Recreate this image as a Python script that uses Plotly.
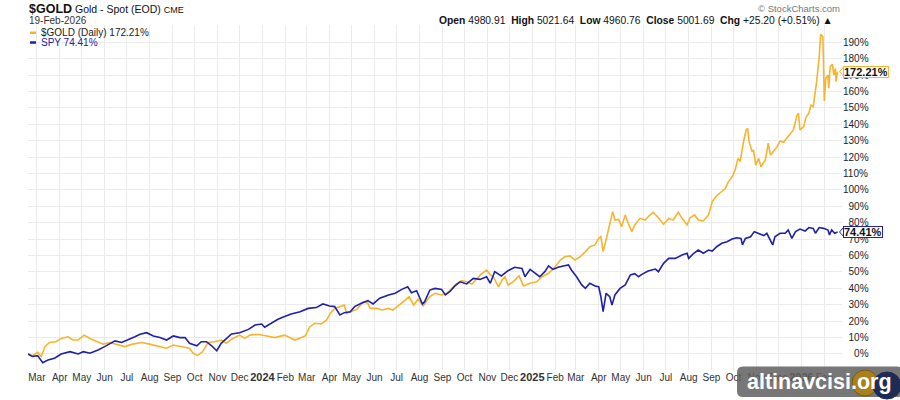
import plotly.graph_objects as go
import pandas as pd

# ---------------- data ----------------
gold_dates = [
    "2023-02-17", "2023-02-23", "2023-03-02", "2023-03-07", "2023-03-12", "2023-03-18", "2023-03-27", "2023-04-03", "2023-04-12", "2023-04-19",
    "2023-04-26", "2023-05-04", "2023-05-12", "2023-05-21", "2023-05-30", "2023-06-08", "2023-06-17", "2023-06-28", "2023-07-09", "2023-07-21",
    "2023-08-01", "2023-08-15", "2023-08-24", "2023-09-02", "2023-09-15", "2023-09-24", "2023-09-29", "2023-10-05", "2023-10-12", "2023-10-19",
    "2023-10-28", "2023-11-06", "2023-11-13", "2023-11-20", "2023-12-01", "2023-12-08", "2023-12-15", "2023-12-26", "2024-01-07", "2024-01-18",
    "2024-01-31", "2024-02-14", "2024-02-28", "2024-03-05", "2024-03-12", "2024-03-21", "2024-03-28", "2024-04-02", "2024-04-08", "2024-04-15",
    "2024-04-21", "2024-04-24", "2024-05-01", "2024-05-08", "2024-05-17", "2024-05-23", "2024-05-26", "2024-06-04", "2024-06-11", "2024-06-20",
    "2024-06-26", "2024-07-03", "2024-07-12", "2024-07-18", "2024-07-24", "2024-07-30", "2024-08-06", "2024-08-15", "2024-08-22", "2024-08-31",
    "2024-09-07", "2024-09-14", "2024-09-20", "2024-09-27", "2024-10-04", "2024-10-11", "2024-10-18", "2024-10-24", "2024-10-31", "2024-11-05",
    "2024-11-09", "2024-11-16", "2024-11-21", "2024-11-25", "2024-11-29", "2024-12-06", "2024-12-14", "2024-12-20", "2024-12-29", "2025-01-07",
    "2025-01-14", "2025-01-23", "2025-02-01", "2025-02-08", "2025-02-14", "2025-02-21", "2025-02-28", "2025-03-07", "2025-03-14", "2025-03-20",
    "2025-03-27", "2025-04-01", "2025-04-04", "2025-04-07", "2025-04-12", "2025-04-17", "2025-04-20", "2025-04-23", "2025-04-28", "2025-05-02",
    "2025-05-07", "2025-05-11", "2025-05-16", "2025-05-20", "2025-05-27", "2025-06-03", "2025-06-07", "2025-06-14", "2025-06-21", "2025-06-28",
    "2025-07-05", "2025-07-11", "2025-07-18", "2025-07-23", "2025-07-30", "2025-08-03", "2025-08-09", "2025-08-14", "2025-08-21", "2025-08-28",
    "2025-09-02", "2025-09-08", "2025-09-15", "2025-09-20", "2025-09-24", "2025-09-29", "2025-10-03", "2025-10-07", "2025-10-10", "2025-10-14",
    "2025-10-18", "2025-10-20", "2025-10-22", "2025-10-26", "2025-10-28", "2025-10-31", "2025-11-04", "2025-11-07", "2025-11-13", "2025-11-17",
    "2025-11-20", "2025-11-24", "2025-11-29", "2025-12-03", "2025-12-08", "2025-12-12", "2025-12-17", "2025-12-21", "2025-12-26", "2025-12-28",
    "2025-12-30", "2026-01-04", "2026-01-07", "2026-01-11", "2026-01-14", "2026-01-17", "2026-01-21", "2026-01-23", "2026-01-25", "2026-01-27",
    "2026-01-30", "2026-01-31", "2026-02-01", "2026-02-03", "2026-02-06", "2026-02-07", "2026-02-09", "2026-02-12", "2026-02-14", "2026-02-16",
    "2026-02-17", "2026-02-19",
]
gold_pct = [
    0, -1, 1, -1.5, 4.5, 7, 7.5, 9.5, 10.5, 8.5,
    8.5, 11.5, 9.5, 7.5, 6, 7, 6, 4.5, 6, 7,
    6, 4.5, 3.5, 5.5, 4.5, 3.5, 0.5, -1, 1.5, 7,
    7.5, 8.5, 6.5, 9, 11.5, 9.5, 11.5, 12, 11, 10,
    11.5, 8.5, 11, 16.5, 18.7, 18.3, 20.7, 24.8, 27.8, 29,
    29.9, 24.8, 25.8, 27.2, 31.9, 30.9, 27.8, 27.8, 26.8, 27.8,
    26.8, 29.3, 32.9, 34.9, 29.9, 33.3, 29.3, 35, 37, 36,
    37, 40, 42.7, 44.7, 44, 42.7, 46.1, 48.8, 51.2, 48.2,
    47.1, 41, 45.1, 47.1, 42.1, 44, 47.6, 41.5, 43.1, 44,
    47.1, 49.2, 53.2, 57.3, 59.3, 59.8, 57.3, 59.3, 62.4, 65.4,
    66.5, 70.5, 71.5, 62.4, 71.5, 80.7, 86.8, 81.7, 82.1, 77.6,
    84.8, 79.7, 74.6, 78.7, 82.7, 81.7, 83.7, 86.4, 83.1, 79.1,
    82.7, 81.7, 86.4, 82.7, 78.7, 83.1, 84.8, 81.7, 81.1, 84.8,
    92.9, 96.5, 99, 101, 105.1, 108.1, 112.2, 119.3, 117.3, 128.5,
    136.6, 137.6, 129.5, 123.4, 124.4, 115.2, 119.3, 114.2, 118.3, 128.5,
    121.3, 123.4, 126.4, 129.9, 129.1, 131.5, 134.6, 136.6, 145.7, 146.8,
    136.6, 138.6, 144.1, 146.8, 151.8, 150.8, 164, 172.1, 180.3, 194.9,
    193.5, 176.2, 154.3, 168.1, 170.1, 162, 175.2, 176.6, 170.1, 174.2,
    166, 172.21,
]

spy_dates = [
    "2023-02-17", "2023-02-23", "2023-03-02", "2023-03-09", "2023-03-16", "2023-03-25", "2023-04-03", "2023-04-15", "2023-04-26", "2023-05-03",
    "2023-05-12", "2023-05-23", "2023-06-01", "2023-06-08", "2023-06-15", "2023-06-24", "2023-07-03", "2023-07-12", "2023-07-19", "2023-07-28",
    "2023-08-06", "2023-08-15", "2023-08-24", "2023-09-02", "2023-09-11", "2023-09-18", "2023-09-24", "2023-10-04", "2023-10-10", "2023-10-17",
    "2023-10-24", "2023-10-31", "2023-11-06", "2023-11-11", "2023-11-20", "2023-12-01", "2023-12-13", "2023-12-22", "2023-12-31", "2024-01-04",
    "2024-01-13", "2024-01-22", "2024-01-31", "2024-02-09", "2024-02-21", "2024-03-03", "2024-03-14", "2024-03-23", "2024-04-01", "2024-04-08",
    "2024-04-15", "2024-04-21", "2024-04-29", "2024-05-05", "2024-05-14", "2024-05-23", "2024-05-30", "2024-06-08", "2024-06-20", "2024-06-29",
    "2024-07-08", "2024-07-16", "2024-07-21", "2024-07-28", "2024-08-05", "2024-08-08", "2024-08-15", "2024-08-22", "2024-08-31", "2024-09-05",
    "2024-09-11", "2024-09-18", "2024-09-25", "2024-10-04", "2024-10-13", "2024-10-22", "2024-10-31", "2024-11-05", "2024-11-11", "2024-11-20",
    "2024-11-29", "2024-12-08", "2024-12-18", "2024-12-22", "2024-12-29", "2025-01-05", "2025-01-11", "2025-01-18", "2025-01-23", "2025-01-29",
    "2025-02-05", "2025-02-12", "2025-02-19", "2025-02-23", "2025-03-02", "2025-03-09", "2025-03-14", "2025-03-20", "2025-03-27", "2025-04-01",
    "2025-04-04", "2025-04-07", "2025-04-11", "2025-04-16", "2025-04-19", "2025-04-23", "2025-04-30", "2025-05-07", "2025-05-14", "2025-05-20",
    "2025-05-25", "2025-05-29", "2025-06-07", "2025-06-17", "2025-06-21", "2025-06-28", "2025-07-05", "2025-07-14", "2025-07-23", "2025-07-30",
    "2025-08-01", "2025-08-08", "2025-08-14", "2025-08-21", "2025-08-28", "2025-09-02", "2025-09-08", "2025-09-15", "2025-09-22", "2025-09-29",
    "2025-10-05", "2025-10-11", "2025-10-13", "2025-10-17", "2025-10-24", "2025-10-29", "2025-11-04", "2025-11-11", "2025-11-15", "2025-11-20",
    "2025-11-23", "2025-11-26", "2025-12-03", "2025-12-10", "2025-12-14", "2025-12-19", "2025-12-24", "2025-12-30", "2026-01-06", "2026-01-11",
    "2026-01-17", "2026-01-20", "2026-01-25", "2026-01-31", "2026-02-06", "2026-02-08", "2026-02-11", "2026-02-15", "2026-02-19",
]
spy_pct = [
    0, -1.5, -1, -5.3, -3.7, -2.6, 0, 1.4, 0, 1.4,
    0.5, 2.4, 4.5, 6, 8, 7, 9, 10.5, 12, 13,
    11, 10, 8.5, 11, 10, 10, 6.5, 5, 7.5, 7.5,
    5, 2, 6.5, 8.5, 12.2, 13, 15, 17.7, 18.3, 16.3,
    18.7, 21.2, 22.8, 24.4, 25.8, 27.8, 28.3, 30.5, 29.3, 28.9,
    23.8, 25.2, 25.8, 28.9, 30.9, 32.5, 30.5, 34, 36, 37,
    39.4, 41, 37.4, 38.6, 30.5, 31.9, 39, 40, 39.4, 36,
    38, 41.5, 44, 42.7, 46.1, 45.5, 47.1, 43.1, 50.2, 47.6,
    50.8, 52.9, 52.2, 47.1, 51.6, 49.2, 47.1, 50.2, 53.7, 51.6,
    52.9, 53.7, 54.3, 51.2, 47.1, 42.1, 40, 43.1, 41.5, 41,
    34.9, 25.8, 37, 34.9, 29.9, 36, 40, 42.1, 48.2, 49,
    47.1, 48.4, 50.6, 51.8, 50.2, 55.3, 58.3, 58.3, 60.4, 61.4,
    58.3, 61.4, 63.4, 61.4, 63.4, 62.8, 65.4, 67.5, 68.5, 70.1,
    70.9, 70.5, 66.5, 70.5, 71.5, 74.6, 73.6, 72.2, 73.6, 69.5,
    66.5, 71.5, 73.6, 73.6, 75.6, 70.5, 74.6, 76.2, 75, 77.1,
    76.6, 73.6, 77.1, 76.6, 75.6, 72.6, 75.6, 73.6, 74.41,
]

month_labels = [
    "Mar", "Apr", "May", "Jun", "Jul", "Aug", "Sep", "Oct", "Nov", "Dec",
    "2024", "Feb", "Mar", "Apr", "May", "Jun", "Jul", "Aug", "Sep", "Oct", "Nov", "Dec",
    "2025", "Feb", "Mar", "Apr", "May", "Jun", "Jul", "Aug", "Sep", "Oct", "Nov", "Dec",
    "2026", "Feb",
]
month_ticks = list(pd.date_range("2023-03-01", periods=len(month_labels), freq="MS"))

pct_ticks = list(range(-10, 201, 10))
ohlc_names = ["Open", "High", "Low", "Close", "Chg"]
ohlc_values = ["4980.91", "5021.64", "4960.76", "5001.69", "+25.20 (+0.51%)"]

symbol_name = "$GOLD"
symbol_desc = "Gold - Spot (EOD)"
exchange = "CME"
as_of = "19-Feb-2026"
gold_legend = "$GOLD (Daily)"
spy_legend = "SPY"

# ---------------- style / geometry ----------------
W, H = 900, 400
L, R, T, B = 28, 58, 25, 30
PW, PH = W - L - R, H - T - B
FONT = "Liberation Sans, Arial, sans-serif"
GOLD = "#F8B42C"
BLUE = "#2020A8"
GRID = "#ebebeb"


def px(x):
    return (x - L) / PW


def py(y):
    return (H - B - y) / PH


fig = go.Figure()
fig.add_trace(go.Scatter(x=gold_dates, y=gold_pct, mode="lines",
                         line=dict(color=GOLD, width=1.6), hoverinfo="skip"))
fig.add_trace(go.Scatter(x=spy_dates, y=spy_pct, mode="lines",
                         line=dict(color=BLUE, width=1.6), hoverinfo="skip"))

tick_text = []
for lab in month_labels:
    if lab.isdigit():
        tick_text.append("<b><span style='font-size:11px'>%s</span></b>" % lab)
    else:
        tick_text.append(lab)

y_text = []
for v in pct_ticks:
    if v < 0 or v > 190:
        y_text.append("")
    else:
        pad = "\u2007" * (3 - len(str(v)))
        y_text.append("%s%d%%" % (pad, v))

fig.update_layout(
    width=W, height=H,
    margin=dict(l=L, r=R, t=T, b=B, autoexpand=False),
    paper_bgcolor="white", plot_bgcolor="white",
    showlegend=False,
    font=dict(family=FONT, size=10, color="#333"),
    xaxis=dict(type="date", range=["2023-02-17", "2026-02-25"],
               tickvals=month_ticks, ticktext=tick_text, ticks="", tickangle=0,
               automargin=False,
               showgrid=True, gridcolor=GRID, gridwidth=1, zeroline=False,
               showline=False, tickfont=dict(size=10, color="#333"), fixedrange=True),
    yaxis=dict(side="right", range=[-9.76, 200.6], tickvals=pct_ticks, ticktext=y_text,
               ticks="", showgrid=True, gridcolor=GRID, gridwidth=1, zeroline=False,
               automargin=False,
               showline=False, tickfont=dict(size=10, color="#222"), fixedrange=True),
)

ann = []
# header left
ann.append(dict(xref="paper", yref="paper", x=px(27), y=py(9.5), xanchor="left", yanchor="middle",
                text="<b><span style='font-size:12.5px'>%s</span></b> %s <span style='font-size:9px'>%s</span>"
                     % (symbol_name, symbol_desc, exchange),
                showarrow=False, font=dict(family=FONT, size=10.5, color="#111")))
ann.append(dict(xref="paper", yref="paper", x=px(27), y=py(20.5), xanchor="left", yanchor="middle",
                text=as_of, showarrow=False, font=dict(family=FONT, size=10, color="#333")))
# legend texts
ann.append(dict(xref="paper", yref="paper", x=px(38.5), y=py(32.8), xanchor="left", yanchor="middle",
                text="%s %.2f%%" % (gold_legend, gold_pct[-1]), showarrow=False,
                font=dict(family=FONT, size=10, color="#222")))
ann.append(dict(xref="paper", yref="paper", x=px(38.5), y=py(42.5), xanchor="left", yanchor="middle",
                text="%s %.2f%%" % (spy_legend, spy_pct[-1]), showarrow=False,
                font=dict(family=FONT, size=10, color=BLUE)))
# header right
ann.append(dict(xref="paper", yref="paper", x=px(842), y=py(9), xanchor="right", yanchor="middle",
                text="\u00a9 StockCharts.com", showarrow=False,
                font=dict(family=FONT, size=9.5, color="#777")))
parts = ["<b>%s</b> %s" % (n, v) for n, v in zip(ohlc_names, ohlc_values)]
ann.append(dict(xref="paper", yref="paper", x=px(835), y=py(20.5), xanchor="right", yanchor="middle",
                text="\u00a0\u00a0".join(parts) + " \u25b2", showarrow=False,
                font=dict(family=FONT, size=10.3, color="#111")))
# last-value boxes on the right axis
for vals, col in ((gold_pct, GOLD), (spy_pct, BLUE)):
    ann.append(dict(xref="paper", yref="y", x=px(843), y=vals[-1], xanchor="left", yanchor="middle",
                    text="<b>%.2f%%</b>" % vals[-1], showarrow=False,
                    bgcolor="white", bordercolor=col, borderwidth=1, borderpad=0, height=10,
                    font=dict(family=FONT, size=11, color="#111")))
# watermark
ann.append(dict(xref="paper", yref="paper", x=px(819), y=py(382), xanchor="center", yanchor="middle",
                text="<b>altinavcisi.org</b>", showarrow=False,
                font=dict(family="Liberation Sans, Arial, sans-serif", size=21.5, color="white")))
fig.update_layout(annotations=ann)

shapes = []
# legend dashes
shapes.append(dict(type="line", xref="paper", yref="paper", x0=px(30), x1=px(36), y0=py(32.8), y1=py(32.8),
                   line=dict(color=GOLD, width=2.5)))
shapes.append(dict(type="line", xref="paper", yref="paper", x0=px(30), x1=px(36), y0=py(42.5), y1=py(42.5),
                   line=dict(color=BLUE, width=2.5)))
# pointer tips of last-value boxes
for vals, col in ((gold_pct, GOLD), (spy_pct, BLUE)):
    v = vals[-1]
    d = 3 / 1.64
    shapes.append(dict(type="path", xref="paper", yref="y",
                       path="M %f %f L %f %f L %f %f Z" % (px(843.5), v + d * 1.5, px(839.5), v, px(843.5), v - d * 1.5),
                       fillcolor="white", line=dict(color=col, width=1), layer="above"))
# watermark box (rounded) and coins
x0, x1, y0, y1, r = 737, 903, 366.5, 397, 6
path = ("M %f %f L %f %f Q %f %f %f %f L %f %f Q %f %f %f %f L %f %f Q %f %f %f %f L %f %f Q %f %f %f %f Z" % (
    px(x0 + r), py(y0), px(x1 - r), py(y0), px(x1), py(y0), px(x1), py(y0 + r), px(x1), py(y1 - r),
    px(x1), py(y1), px(x1 - r), py(y1), px(x0 + r), py(y1), px(x0), py(y1), px(x0), py(y1 - r),
    px(x0), py(y0 + r), px(x0), py(y0), px(x0 + r), py(y0)))
shapes.append(dict(type="path", xref="paper", yref="paper", path=path,
                   fillcolor="rgba(95,95,95,0.85)", line=dict(width=0), layer="above"))
shapes.append(dict(type="circle", xref="paper", yref="paper", x0=px(852), x1=px(878), y0=py(396), y1=py(370),
                   fillcolor="#A8801C", line=dict(color="#7a5c10", width=1), layer="above"))
shapes.append(dict(type="circle", xref="paper", yref="paper", x0=px(873), x1=px(901), y0=py(399), y1=py(372),
                   fillcolor="#1d2b55", line=dict(color="#1d2b55", width=1), layer="above"))
fig.update_layout(shapes=shapes)

fig.write_html("out.html")
